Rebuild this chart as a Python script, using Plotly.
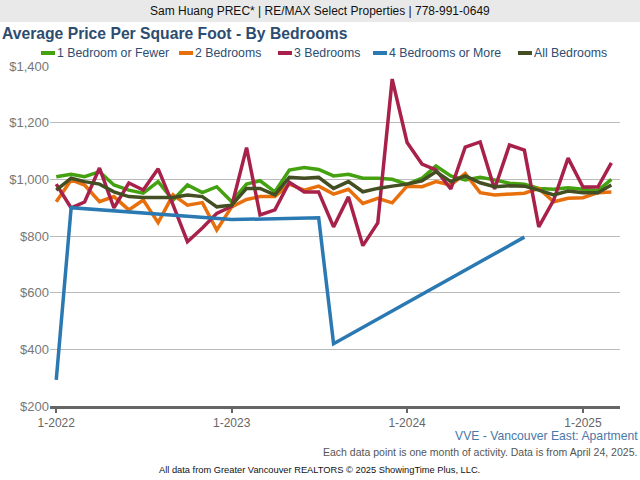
import plotly.graph_objects as go
import pandas as pd

months = pd.date_range("2022-01-01", "2025-03-01", freq="MS")

one_bed = [1009, 1018, 1009, 1027, 980, 962, 951, 992, 927, 980, 953, 974,
           921, 983, 995, 956, 1033, 1042, 1035, 1012, 1018, 1004, 1004, 1000,
           982, 1004, 1047, 1012, 998, 1007, 998, 986, 983, 968, 965, 970,
           965, 960, 1000]
two_bed = [921, 998, 980, 921, 939, 892, 927, 847, 945, 909, 918, 821,
           903, 929, 939, 939, 983, 962, 976, 948, 965, 915, 933, 917,
           976, 974, 992, 980, 1021, 953, 945, 947, 951, 968, 921, 933,
           935, 953, 955]
three_bed = [983, 899, 920, 1040, 899, 987, 962, 1037, 910, 780, 828, 880,
             905, 1112, 874, 892, 990, 955, 955, 832, 938, 766, 846, 1354,
             1130, 1054, 1033, 966, 1114, 1132, 966, 1121, 1103, 832, 927, 1075,
             973, 973, 1058]
four_bed = [292, 900, None, None, None, None, None, None, None, None, None, None,
            858, None, None, None, None, None, 864, 420, None, None, None, None,
            None, None, None, None, None, None, None, None, 796, None, None, None,
            None, None, None]
all_bed = [962, 1004, 992, 983, 956, 939, 936, 936, 936, 945, 939, 903,
           909, 968, 968, 945, 1007, 1004, 1007, 968, 992, 956, 968, 976,
           983, 995, 1027, 992, 1012, 988, 974, 977, 976, 962, 945, 959,
           953, 953, 980]

series_names = ["1 Bedroom or Fewer", "2 Bedrooms", "3 Bedrooms",
                "4 Bedrooms or More", "All Bedrooms"]
series_values = [one_bed, two_bed, three_bed, four_bed, all_bed]
series_colors = ["#44a10f", "#e8700c", "#a8214b", "#2a79b2", "#434f22"]

tick_dates = ["2022-01-01", "2023-01-01", "2024-01-01", "2025-01-01"]
tick_text = ["1-2022", "1-2023", "1-2024", "1-2025"]
y_ticks = [200, 400, 600, 800, 1000, 1200, 1400]
y_tick_text = ["$200", "$400", "$600", "$800", "$1,000", "$1,200", "$1,400"]

FONT = "Liberation Sans, Arial, sans-serif"

fig = go.Figure()
for name, vals, col in zip(series_names, series_values, series_colors):
    fig.add_trace(go.Scatter(x=months, y=vals, name=name, mode="lines",
                             connectgaps=True, showlegend=False,
                             line=dict(color=col, width=3.5)))

# plot area in pixels: x 50..620, y 66..406
def px(xp):
    return (xp - 50) / 570.0

def py(yp):
    return (406 - yp) / 340.0

fig.add_shape(type="rect", xref="paper", yref="paper",
              x0=px(0), x1=px(640), y0=py(22), y1=py(0),
              fillcolor="#e9e9e9", line=dict(width=0), layer="below")

fig.add_annotation(xref="paper", yref="paper", x=px(320), y=py(11),
                   text="Sam Huang PREC* | RE/MAX Select Properties | 778-991-0649",
                   showarrow=False, font=dict(size=12, color="#111", family=FONT),
                   xanchor="center", yanchor="middle")
fig.add_annotation(xref="paper", yref="paper", x=px(0), y=py(34),
                   text="<b>Average Price Per Square Foot - By Bedrooms</b>",
                   showarrow=False, font=dict(size=15.7, color="#2d4d70", family=FONT),
                   xanchor="left", yanchor="middle")

# legend (manual, to match compact reference layout)
legend_x = [41, 179, 278, 373, 518]
for name, col, lx in zip(series_names, series_colors, legend_x):
    fig.add_shape(type="line", xref="paper", yref="paper",
                  x0=px(lx), x1=px(lx + 14), y0=py(53), y1=py(53),
                  line=dict(color=col, width=4))
    fig.add_annotation(xref="paper", yref="paper", x=px(lx + 14), y=py(53),
                       text=name, showarrow=False,
                       font=dict(size=12.3, color="#2d4d70", family=FONT),
                       xanchor="left", yanchor="middle")

fig.add_annotation(xref="paper", yref="paper", x=px(640), y=py(436),
                   text="VVE - Vancouver East: Apartment",
                   showarrow=False, font=dict(size=12.2, color="#4a78a8", family=FONT),
                   xanchor="right", yanchor="middle")
fig.add_annotation(xref="paper", yref="paper", x=px(639), y=py(452),
                   text="Each data point is one month of activity. Data is from April 24, 2025.",
                   showarrow=False, font=dict(size=10.5, color="#555", family=FONT),
                   xanchor="right", yanchor="middle")
fig.add_annotation(xref="paper", yref="paper", x=px(319), y=py(470),
                   text="All data from Greater Vancouver REALTORS © 2025 ShowingTime Plus, LLC.",
                   showarrow=False, font=dict(size=9.3, color="#111", family=FONT),
                   xanchor="center", yanchor="middle")

fig.update_layout(
    width=640, height=480,
    margin=dict(l=50, r=20, t=66, b=74, autoexpand=False),
    paper_bgcolor="white", plot_bgcolor="white",
    font=dict(family=FONT, color="#555"),
    showlegend=False,
)
fig.update_xaxes(range=["2021-12-19", "2025-03-19"],
                 tickvals=tick_dates, ticktext=tick_text,
                 showgrid=False, showline=True, linecolor="#666", linewidth=3,
                 ticks="outside", ticklen=4, tickwidth=2, tickcolor="#666",
                 tickfont=dict(size=12, color="#666", family=FONT), zeroline=False)
fig.update_yaxes(range=[200, 1400], tickvals=y_ticks, ticktext=y_tick_text,
                 showgrid=True, gridcolor="#bbbbbb", gridwidth=1,
                 showline=False, zeroline=False,
                 tickfont=dict(size=13, color="#777", family=FONT))

fig.write_html("out.html", config={"displayModeBar": False},
               post_script="document.body.style.margin='0';document.body.style.overflow='hidden';")
